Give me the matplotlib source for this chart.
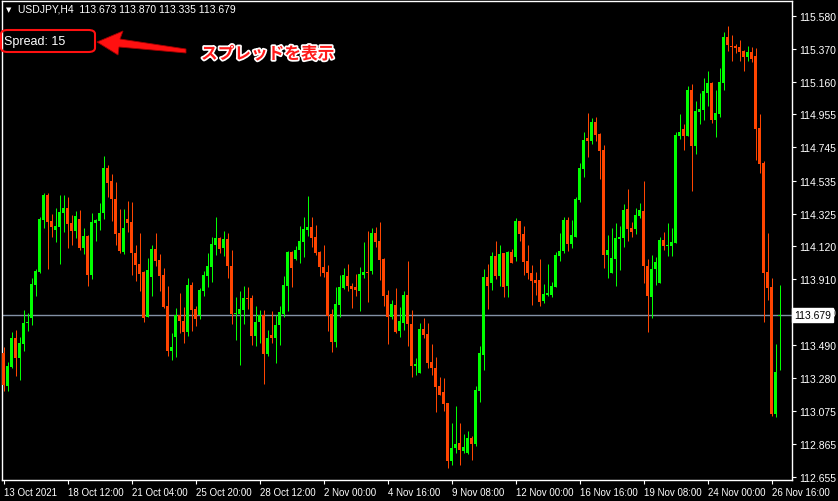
import matplotlib
matplotlib.use("Agg")
import matplotlib.pyplot as plt
from matplotlib.patches import FancyBboxPatch, Polygon
from matplotlib import patheffects
from matplotlib.transforms import blended_transform_factory

# USDJPY H4 bars, oldest first
opens = [113.441, 113.231, 113.351, 113.536, 113.409, 113.497, 113.633, 113.663, 113.872, 113.955,
         114.285, 114.443, 114.278, 114.221, 114.240, 114.329, 114.361, 114.266, 114.215, 114.291,
         114.107, 114.183, 113.935, 114.266, 114.278, 114.329, 114.615, 114.532, 114.418, 114.202,
         114.082, 114.291, 114.272, 114.075, 114.005, 113.955, 113.669, 113.923, 114.101, 114.031,
         113.935, 113.739, 113.453, 113.542, 113.681, 113.643, 113.574, 113.872, 113.720, 113.681,
         113.834, 113.929, 113.986, 114.126, 114.171, 114.107, 114.164, 113.993, 113.690, 113.688,
         113.713, 113.789, 113.789, 113.548, 113.637, 113.681, 113.434, 113.555, 113.536, 113.618,
         113.688, 113.866, 114.082, 114.037, 114.094, 114.145, 114.221, 114.240, 114.177, 114.082,
         113.986, 113.955, 113.688, 113.510, 113.745, 113.853, 113.929, 113.866, 113.859, 113.834,
         113.935, 113.955, 113.961, 114.202, 114.151, 114.037, 113.809, 113.669, 113.745, 113.580,
         113.631, 113.809, 113.624, 113.358, 113.313, 113.593, 113.561, 113.383, 113.345, 113.231,
         113.193, 113.123, 112.754, 112.837, 112.869, 112.818, 112.805, 112.900, 112.862, 113.199,
         113.428, 113.923, 113.885, 114.056, 113.929, 114.075, 113.866, 114.082, 114.050, 114.278,
         114.196, 114.024, 113.948, 113.904, 113.904, 113.770, 113.809, 113.809, 113.859, 114.056,
         114.088, 114.285, 114.132, 114.177, 114.412, 114.608, 114.805, 114.786, 114.907, 114.830,
         114.729, 114.063, 113.948, 114.037, 114.164, 114.171, 114.355, 114.234, 114.228, 114.310,
         114.342, 113.993, 113.796, 113.974, 113.885, 114.158, 114.120, 114.120, 114.139, 114.818,
         114.862, 114.818, 115.110, 114.755, 114.970, 114.983, 115.091, 115.155, 114.920, 114.958,
         115.155, 115.447, 115.390, 115.390, 115.383, 115.358, 115.320, 115.351, 115.326, 114.869,
         114.647, 113.955, 113.859, 113.053, 113.673]
highs = [113.478, 113.383, 113.574, 113.586, 113.542, 113.713, 113.694, 113.917, 113.974, 114.304,
         114.456, 114.456, 114.323, 114.361, 114.443, 114.443, 114.431, 114.317, 114.342, 114.348,
         114.234, 114.189, 114.329, 114.291, 114.393, 114.691, 114.634, 114.577, 114.526, 114.355,
         114.355, 114.405, 114.399, 114.126, 114.202, 113.958, 114.044, 114.126, 114.202, 114.069,
         113.980, 113.866, 113.567, 113.726, 113.821, 113.732, 113.917, 113.891, 113.739, 113.853,
         113.961, 114.075, 114.177, 114.304, 114.177, 114.215, 114.202, 114.094, 113.796, 113.834,
         113.866, 113.859, 113.809, 113.739, 113.713, 113.713, 113.586, 113.707, 113.681, 113.739,
         113.929, 114.088, 114.088, 114.120, 114.247, 114.304, 114.437, 114.304, 114.253, 114.088,
         114.126, 113.999, 113.720, 113.859, 113.935, 113.980, 114.005, 113.885, 113.942, 113.986,
         114.145, 114.215, 114.234, 114.240, 114.272, 114.044, 113.840, 113.777, 113.853, 113.732,
         113.834, 114.024, 113.713, 113.409, 113.631, 113.663, 113.631, 113.497, 113.415, 113.288,
         113.281, 113.126, 112.996, 113.104, 112.996, 112.926, 112.945, 112.913, 113.231, 113.485,
         113.974, 114.005, 114.082, 114.151, 114.126, 114.078, 114.085, 114.101, 114.298, 114.281,
         114.247, 114.126, 113.999, 113.955, 114.037, 113.878, 114.005, 113.891, 114.082, 114.202,
         114.304, 114.304, 114.285, 114.431, 114.647, 114.843, 114.964, 114.932, 114.939, 114.837,
         114.761, 114.189, 114.234, 114.266, 114.247, 114.386, 114.482, 114.272, 114.361, 114.393,
         114.532, 114.037, 114.063, 114.050, 114.177, 114.208, 114.266, 114.234, 114.843, 114.958,
         114.894, 115.136, 115.148, 115.040, 115.091, 115.186, 115.231, 115.161, 115.110, 115.250,
         115.478, 115.517, 115.459, 115.402, 115.428, 115.361, 115.390, 115.383, 115.377, 114.958,
         114.659, 114.202, 113.917, 113.497, 113.870]
lows = [113.199, 113.199, 113.345, 113.294, 113.269, 113.453, 113.580, 113.618, 113.802, 113.948,
        114.234, 113.974, 114.177, 114.145, 114.005, 114.208, 114.107, 114.126, 114.171, 114.094,
        114.069, 113.866, 113.910, 114.151, 114.221, 114.291, 114.431, 114.278, 114.126, 114.075,
        114.069, 114.208, 113.935, 113.897, 113.834, 113.637, 113.667, 113.802, 113.993, 113.834,
        113.726, 113.421, 113.396, 113.415, 113.567, 113.504, 113.548, 113.580, 113.612, 113.656,
        113.802, 113.859, 113.891, 114.063, 114.075, 114.056, 113.917, 113.624, 113.523, 113.364,
        113.624, 113.720, 113.491, 113.485, 113.504, 113.243, 113.421, 113.504, 113.377, 113.491,
        113.669, 113.707, 113.859, 114.031, 114.012, 114.050, 114.183, 114.113, 114.063, 113.929,
        113.923, 113.580, 113.447, 113.478, 113.669, 113.847, 113.834, 113.726, 113.802, 113.707,
        113.917, 113.764, 113.942, 114.113, 113.904, 113.739, 113.497, 113.656, 113.567, 113.542,
        113.586, 113.485, 113.288, 113.300, 113.312, 113.536, 113.345, 113.300, 113.065, 113.172,
        113.072, 112.710, 112.729, 112.805, 112.729, 112.805, 112.799, 112.761, 112.849, 113.129,
        113.332, 113.720, 113.840, 113.910, 113.866, 113.796, 113.796, 114.010, 114.024, 114.151,
        113.935, 113.910, 113.745, 113.809, 113.739, 113.758, 113.802, 113.796, 113.857, 114.024,
        114.075, 114.088, 114.107, 114.175, 114.399, 114.558, 114.684, 114.767, 114.786, 114.545,
        113.980, 113.917, 113.946, 113.866, 113.967, 114.113, 114.151, 114.177, 114.196, 114.298,
        113.885, 113.574, 113.663, 113.872, 113.883, 114.094, 114.056, 114.056, 114.137, 114.799,
        114.729, 114.816, 114.469, 114.704, 114.894, 114.920, 115.009, 114.901, 114.812, 114.939,
        115.110, 115.358, 115.294, 115.345, 115.294, 115.231, 115.294, 115.288, 114.666, 114.583,
        113.637, 113.777, 113.040, 113.034, 113.335]
closes = [113.237, 113.358, 113.536, 113.409, 113.504, 113.631, 113.637, 113.878, 113.961, 114.291,
          114.443, 114.272, 114.240, 114.247, 114.336, 114.361, 114.259, 114.215, 114.310, 114.107,
          114.183, 113.935, 114.272, 114.285, 114.329, 114.615, 114.520, 114.418, 114.196, 114.088,
          114.234, 114.266, 114.075, 113.999, 113.942, 113.663, 113.967, 114.101, 114.024, 113.929,
          113.732, 113.453, 113.478, 113.681, 113.643, 113.574, 113.872, 113.713, 113.656, 113.840,
          113.935, 113.993, 114.132, 114.171, 114.101, 114.164, 113.993, 113.688, 113.694, 113.720,
          113.789, 113.783, 113.548, 113.637, 113.681, 113.434, 113.536, 113.536, 113.618, 113.701,
          113.872, 114.082, 113.980, 114.094, 114.151, 114.228, 114.240, 114.171, 114.075, 113.986,
          113.948, 113.675, 113.510, 113.751, 113.859, 113.935, 113.866, 113.847, 113.840, 113.942,
          113.955, 113.948, 114.202, 114.145, 114.031, 113.802, 113.669, 113.751, 113.574, 113.643,
          113.809, 113.624, 113.358, 113.370, 113.593, 113.555, 113.377, 113.345, 113.224, 113.174,
          113.116, 112.754, 112.837, 112.862, 112.824, 112.843, 112.900, 112.862, 113.205, 113.440,
          113.923, 113.866, 114.056, 113.929, 114.069, 113.859, 114.082, 114.012, 114.278, 114.196,
          114.018, 113.948, 113.897, 113.885, 113.764, 113.815, 113.821, 113.866, 114.063, 114.088,
          114.285, 114.132, 114.189, 114.418, 114.615, 114.793, 114.786, 114.907, 114.824, 114.723,
          114.063, 114.094, 114.044, 114.171, 114.177, 114.348, 114.228, 114.208, 114.317, 114.348,
          113.993, 113.802, 113.974, 114.018, 114.158, 114.120, 114.126, 114.145, 114.824, 114.843,
          114.818, 115.110, 114.755, 114.977, 114.990, 115.104, 115.155, 114.920, 114.964, 115.161,
          115.447, 115.396, 115.383, 115.377, 115.351, 115.320, 115.351, 115.307, 114.863, 114.640,
          113.948, 113.853, 113.053, 113.320, 113.679]

price_ticks = [115.580, 115.370, 115.160, 114.955, 114.745, 114.535, 114.325, 114.120,
               113.910, 113.700, 113.490, 113.280, 113.075, 112.865, 112.655]
time_tick_bars = [0, 16, 32, 48, 64, 80, 96, 112, 128, 144, 160, 176, 192]
time_tick_labels = ["13 Oct 2021", "18 Oct 12:00", "21 Oct 04:00", "25 Oct 20:00",
                    "28 Oct 12:00", "2 Nov 00:00", "4 Nov 16:00", "9 Nov 08:00",
                    "12 Nov 00:00", "16 Nov 16:00", "19 Nov 08:00", "24 Nov 00:00",
                    "26 Nov 16:00"]
bid = 113.679

W, H = 838, 502
UP = "#00ff00"
DOWN = "#ff4500"
FONT = "Liberation Sans"

def px(x, y):
    # pixel position (top-left origin) -> figure fraction
    return x / W, 1 - y / H

fig = plt.figure(figsize=(W / 100, H / 100), dpi=100, facecolor="black")
ax = fig.add_axes([2 / W, 21 / H, 790 / W, 479 / H])
ax.set_facecolor("black")

# candles: 1px wick, 3px body; x range chosen so each bar sits on whole pixels
for i in range(len(opens)):
    o, h, l, c = opens[i], highs[i], lows[i], closes[i]
    col = UP if c >= o else DOWN
    ax.vlines(i, l, h, color=col, lw=0.72, zorder=2)
    body = max(abs(c - o), 0.005)
    ax.bar(i, body, bottom=min(o, c), width=0.75, color=col, lw=0, zorder=3)

ax.axhline(bid, color="#8391a5", lw=1.0, zorder=1)

ax.set_xlim(-0.375, 197.125)
ax.set_ylim(112.634, 115.675)

for s in ax.spines.values():
    s.set_color("white")
    s.set_linewidth(1.0)

ax.yaxis.tick_right()
ax.set_yticks(price_ticks)
ax.set_yticklabels(["%.3f" % p for p in price_ticks])
ax.tick_params(axis="y", colors="white", length=3, width=0.8, pad=2, labelsize=7.5)
ax.set_xticks(time_tick_bars)
ax.set_xticklabels(time_tick_labels, ha="left")
ax.tick_params(axis="x", colors="white", length=3, width=0.8, pad=2, labelsize=7)
for lab in ax.get_xticklabels() + ax.get_yticklabels():
    lab.set_fontfamily(FONT)
    lab.set_color("white")

# current price box on the scale (covers the 113.700 label as in the terminal)
tr = blended_transform_factory(ax.transAxes, ax.transData)
ax.text(1.003, bid, "113.679", transform=tr, ha="left", va="center", fontsize=7.5,
        family=FONT, color="black", zorder=10, clip_on=False,
        bbox=dict(boxstyle="square,pad=0.2", fc="white", ec="white"))

# header
fig.text(*px(6, 10), "\u25bc", fontsize=5, color="white", va="center", ha="left")
fig.text(*px(18, 10), "USDJPY,H4  113.673 113.870 113.335 113.679", fontsize=7.5,
         family=FONT, color="white", va="center", ha="left")

# spread label with red frame
fig.text(*px(4, 42), "Spread: 15", fontsize=9, family=FONT, color="white",
         va="center", ha="left")
x0, y0 = px(1, 53)
x1, y1 = px(95, 31)
fig.patches.append(FancyBboxPatch((x0, y0), x1 - x0, y1 - y0,
                                  boxstyle="round,pad=0,rounding_size=0.008",
                                  transform=fig.transFigure, fill=False,
                                  ec="#ff1010", lw=1.5))

# arrow
arrow_pts = [px(97, 43), px(123, 32), px(120, 40), px(186, 50), px(186, 54),
             px(119, 48), px(118, 56)]
fig.patches.append(Polygon(arrow_pts, closed=True, transform=fig.transFigure,
                           fc="#ff1010", ec="#a00000", lw=0.6))

# annotation text
fig.text(*px(201, 55), "スプレッドを表示", fontsize=12, fontweight="bold",
         family=["Noto Sans CJK JP", "DejaVu Sans"], color="#ff1a1a",
         va="center", ha="left",
         path_effects=[patheffects.withStroke(linewidth=2.5, foreground="white")])

fig.savefig("out.png", dpi=100, facecolor="black")
